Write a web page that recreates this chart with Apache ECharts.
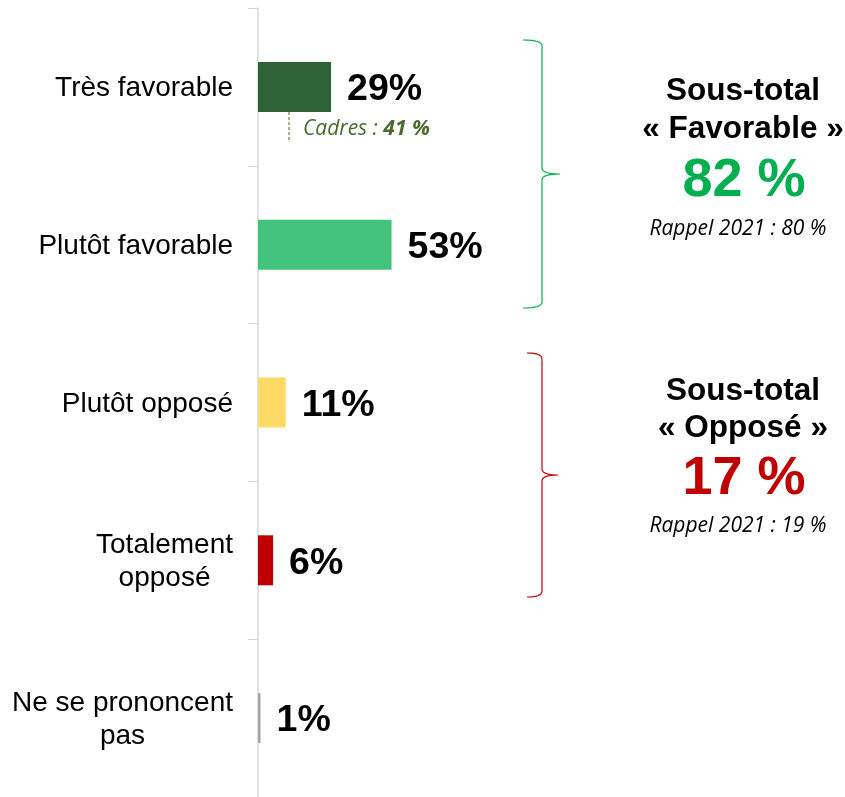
<!DOCTYPE html>
<html>
<head>
<meta charset="utf-8">
<script src="https://cdn.jsdelivr.net/npm/echarts@6/dist/echarts.min.js"></script>
<style>
html, body { margin: 0; padding: 0; background: #fff; }
#chart { width: 845px; height: 797px; }
</style>
</head>
<body>
<div id="chart"></div>
<script>
var categories = ['Très favorable', 'Plutôt favorable', 'Plutôt opposé', 'Totalement\nopposé', 'Ne se prononcent\npas'];
var values = [29, 53, 11, 6, 1];
var barColors = ['#2E6237', '#43C47C', '#FFD966', '#C00000', '#A6A6A6'];
var subtotalLabels = ['« Favorable »', '« Opposé »'];
var subtotalValues = [82, 17];
var rappel2021 = [80, 19];
var cadresValue = 41;

var chart = echarts.init(document.getElementById('chart'));

// curly brace drawn as a polyline sampled from quadratic curves
function brace(x0, x1, x2, y1, ym, y2, color) {
	var r = 6, pts = [];
	function quad(p0, c, p1) {
		for (var t = 0; t <= 1.0001; t += 0.125) {
			var a = (1 - t) * (1 - t), b = 2 * (1 - t) * t, d = t * t;
			pts.push([a * p0[0] + b * c[0] + d * p1[0], a * p0[1] + b * c[1] + d * p1[1]]);
		}
	}
	quad([x0, y1], [x1, y1], [x1, y1 + r]);
	quad([x1, ym - r], [x1, ym], [x2, ym]);
	quad([x2, ym], [x1, ym], [x1, ym + r]);
	quad([x1, y2 - r], [x1, y2], [x0, y2]);
	return {
		type: 'polyline',
		shape: { points: pts },
		style: { fill: null, stroke: color, lineWidth: 1.2 }
	};
}

function txt(text, x, y, font, color) {
	return {
		type: 'text',
		style: {
			text: text, x: x, y: y, font: font, fill: color,
			align: 'center', verticalAlign: 'middle',
			textAlign: 'center', textVerticalAlign: 'middle'
		}
	};
}

var arial = '"Liberation Sans", Arial, sans-serif';
var boldFont = 'bold 31.5px ' + arial;
var bigFont = 'bold 54px ' + arial;
var italicFont = 'italic 21px "Open Sans", sans-serif';

chart.setOption({
	animation: false,
	grid: { left: 258, right: 335, top: 8, height: 793, containLabel: false },
	xAxis: { type: 'value', min: 0, max: 100, show: false },
	yAxis: {
		type: 'category',
		inverse: true,
		data: categories,
		axisLine: { show: true, lineStyle: { color: '#D9D9D9', width: 1.5 } },
		axisTick: { show: true, length: 10, lineStyle: { color: '#D9D9D9' } },
		axisLabel: {
			margin: 25,
			color: '#000',
			fontFamily: arial,
			fontSize: 28,
			formatter: function (v) {
				return v.split('\n').map(function (s) { return '{c|' + s + '}'; }).join('\n');
			},
			rich: { c: { align: 'center', fontFamily: arial, fontSize: 28, lineHeight: 33, color: '#000', padding: [3, 0, 0, 0] } }
		}
	},
	series: [{
		type: 'bar',
		barWidth: 50,
		data: values.map(function (v, i) {
			return { value: v, itemStyle: { color: barColors[i] } };
		}),
		label: {
			show: true,
			position: 'right',
			distance: 16,
			offset: [0, 3],
			formatter: '{c}%',
			color: '#000',
			fontWeight: 'bold',
			fontSize: 37.5,
			fontFamily: arial
		}
	}],
	graphic: [
		brace(523, 542, 560, 40, 174, 308, '#00B050'),
		brace(527, 542, 558, 353, 475, 597, '#C00000'),
		{
			type: 'line',
			shape: { x1: 289, y1: 112, x2: 289, y2: 142 },
			style: { stroke: '#4A6A2E', lineWidth: 1, lineDash: [3, 2] }
		},
		{
			type: 'text',
			style: {
				text: '{a|Cadres : }{b|' + cadresValue + ' %}',
				x: 303, y: 129,
				verticalAlign: 'middle', textVerticalAlign: 'middle',
				rich: {
					a: { font: 'italic 21px "Open Sans", sans-serif', fill: '#4A6A2E' },
					b: { font: 'italic bold 21px "Open Sans", sans-serif', fill: '#4A6A2E' }
				}
			}
		},
		txt('Sous-total', 743, 91, boldFont, '#000'),
		txt(subtotalLabels[0], 743, 129, boldFont, '#000'),
		txt(subtotalValues[0] + ' %', 744, 181, bigFont, '#00B050'),
		txt('Rappel 2021 : ' + rappel2021[0] + ' %', 738, 229, italicFont, '#000'),
		txt('Sous-total', 743, 391, boldFont, '#000'),
		txt(subtotalLabels[1], 743, 428, boldFont, '#000'),
		txt(subtotalValues[1] + ' %', 744, 479, bigFont, '#C00000'),
		txt('Rappel 2021 : ' + rappel2021[1] + ' %', 738, 526, italicFont, '#000')
	]
});
</script>
</body>
</html>
